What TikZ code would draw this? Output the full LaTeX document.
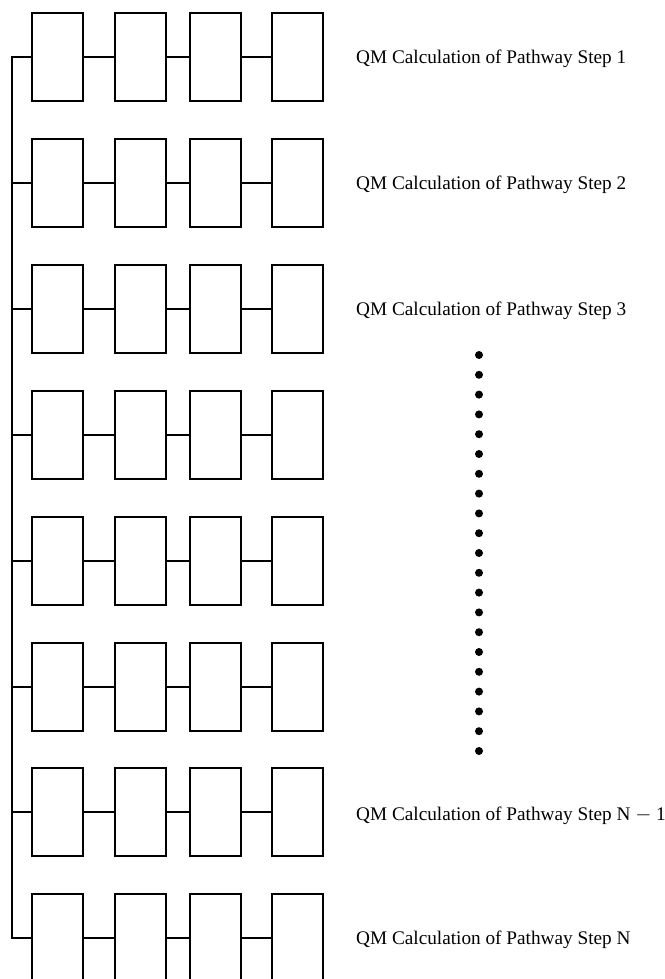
\documentclass[tikz,border=0pt]{standalone}
\usepackage{fontspec}
\setmainfont{Liberation Serif}
\begin{document}
\begin{tikzpicture}[x=1pt,y=-1pt,
  cell/.style={draw=black,line width=2pt,rectangle,minimum width=51pt,minimum height=88pt,inner sep=0pt,fill=white},
  wire/.style={draw=black,line width=2pt},
  label/.style={anchor=base west,inner sep=0pt,font=\fontsize{19.25pt}{22pt}\selectfont},
  dotnode/.style={circle,fill=black,minimum size=8pt,inner sep=0pt}]
\useasboundingbox (0,0) rectangle (664,979);
\foreach \k in {0,...,7}{
  \pgfmathsetmacro{\yy}{57+\k*125.9}
  \coordinate (t\k) at (12,\yy);
  \node[cell] (b\k a) at (57.5,\yy) {};
  \node[cell] (b\k b) at (140.5,\yy) {};
  \node[cell] (b\k c) at (215.5,\yy) {};
  \node[cell] (b\k d) at (297.5,\yy) {};
  \draw[wire] (t\k) -- (b\k a.west);
  \draw[wire] (b\k a.east) -- (b\k b.west);
  \draw[wire] (b\k b.east) -- (b\k c.west);
  \draw[wire] (b\k c.east) -- (b\k d.west);
}
\draw[wire,line cap=rect] (t0) -- (t7);
\node[label] (l1) at (356,63.4) {QM Calculation of Pathway Step 1};
\node[label] (l2) at (356,189.3) {QM Calculation of Pathway Step 2};
\node[label] (l3) at (356,315.2) {QM Calculation of Pathway Step 3};
\node[label] (l7) at (356,820.6) {QM Calculation of Pathway Step N $-$ 1};
\node[label] (l8) at (356,944.5) {QM Calculation of Pathway Step N};
\foreach \i in {0,...,20}{
  \node[dotnode] (d\i) at (479,355+\i*19.8) {};
}
\end{tikzpicture}
\end{document}
